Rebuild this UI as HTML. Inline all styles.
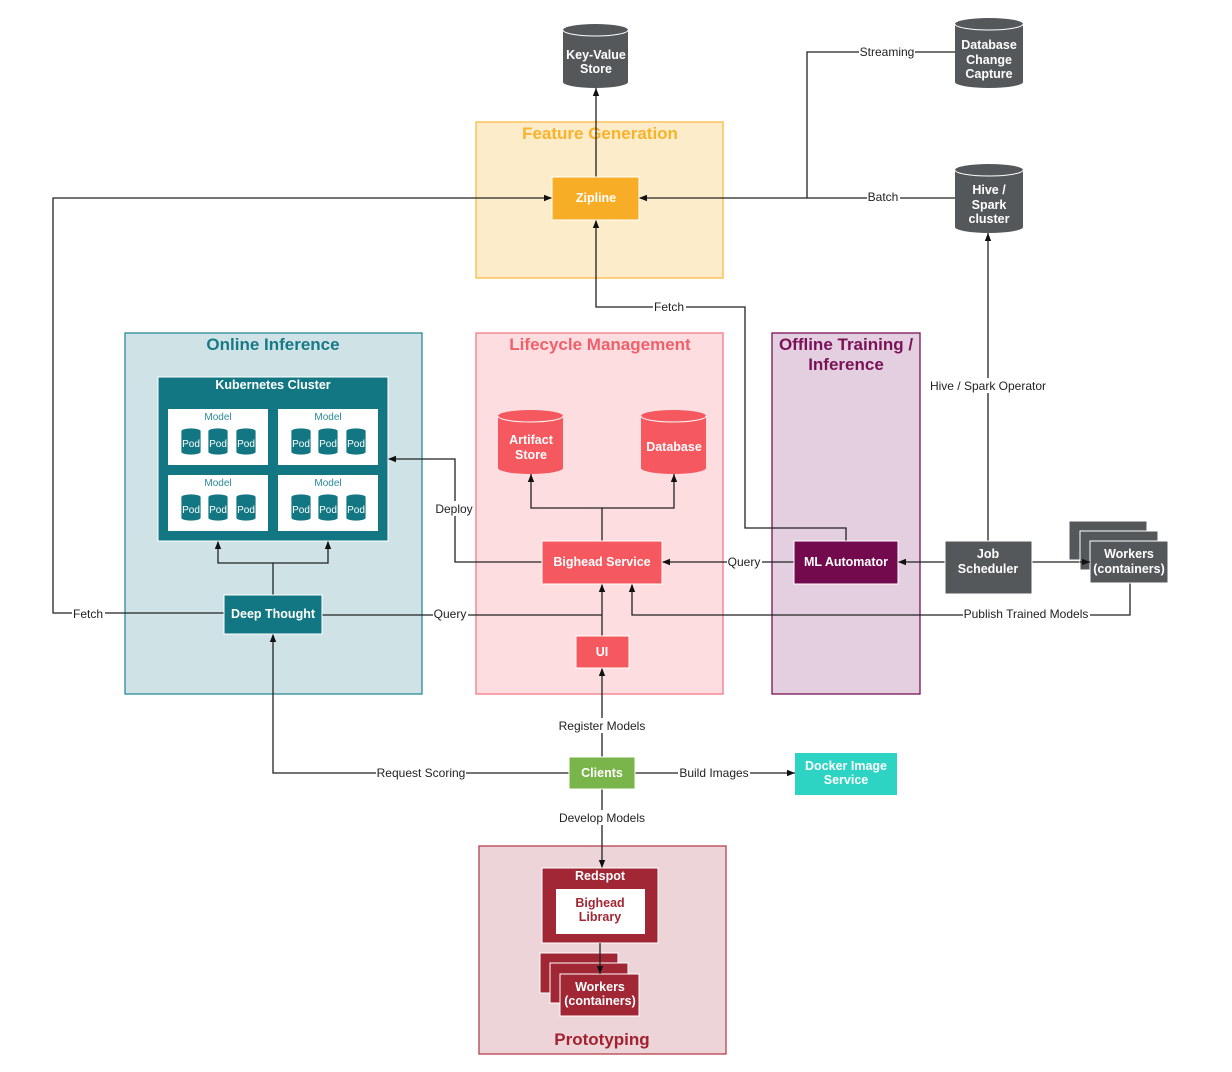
<!DOCTYPE html>
<html><head><meta charset="utf-8"><style>
html,body{margin:0;padding:0;background:#fff;}
svg{display:block;font-family:"Liberation Sans",Arial,sans-serif;}
.w{fill:#fff;font-weight:bold;font-size:12.5px;text-anchor:middle;}
.l{fill:#222;font-size:12px;text-anchor:middle;}
.ln{fill:none;stroke:#222;stroke-width:1.3;}
.t{font-weight:bold;font-size:17px;text-anchor:middle;}
.pt{fill:#fff;font-size:10px;text-anchor:middle;}
.mt{fill:#2a8a98;font-size:10px;text-anchor:middle;}
</style></head><body>
<svg width="1232" height="1072" viewBox="0 0 1232 1072" xmlns="http://www.w3.org/2000/svg">
<defs>
<marker id="a" viewBox="0 0 10 10" refX="10" refY="5" markerWidth="8" markerHeight="8" orient="auto-start-reverse" markerUnits="userSpaceOnUse"><path d="M0,1 L10,5 L0,9 z" fill="#111"/></marker>
</defs>

<!-- containers -->
<rect x="476" y="122" width="247" height="156" fill="#fdecc9" stroke="#f9c35a" stroke-width="1.5"/>
<text x="600" y="139" class="t" fill="#f7b32b">Feature Generation</text>
<rect x="125" y="333" width="297" height="361" fill="#cfe3e7" stroke="#2a8a98" stroke-width="1.3"/>
<text x="273" y="350" class="t" fill="#177a86">Online Inference</text>
<rect x="476" y="333" width="247" height="361" fill="#fddde0" stroke="#f28a92" stroke-width="1.5"/>
<text x="600" y="350" class="t" fill="#f0606a">Lifecycle Management</text>
<rect x="772" y="333" width="148" height="361" fill="#e4cfe0" stroke="#7a1258" stroke-width="1.3"/>
<text x="846" y="350" class="t" fill="#7a1258">Offline Training /</text>
<text x="846" y="370" class="t" fill="#7a1258">Inference</text>
<rect x="479" y="846" width="247" height="208" fill="#ecd4d8" stroke="#b8404f" stroke-width="1.3"/>
<text x="602" y="1045" class="t" fill="#a3222f">Prototyping</text>

<!-- connectors -->
<path class="ln" d="M596 177 V88" marker-end="url(#a)"/>
<path class="ln" d="M955 52 H807 V198"/>
<path class="ln" d="M955 198 H639" marker-end="url(#a)"/>
<path class="ln" d="M224 613 H53 V198 H552" marker-end="url(#a)"/>
<path class="ln" d="M846 541 V528 H745 V307 H596 V220" marker-end="url(#a)"/>
<path class="ln" d="M988 541 V233" marker-end="url(#a)"/>
<path class="ln" d="M1032 562 H1090" marker-end="url(#a)"/>
<path class="ln" d="M945 562 H898" marker-end="url(#a)"/>
<path class="ln" d="M794 562 H662" marker-end="url(#a)"/>
<path class="ln" d="M602 541 V508 H531 V474" marker-end="url(#a)"/>
<path class="ln" d="M602 508 H674 V474" marker-end="url(#a)"/>
<path class="ln" d="M542 562 H455 V459 H388" marker-end="url(#a)"/>
<path class="ln" d="M273 595 V563 H218 V541" marker-end="url(#a)"/>
<path class="ln" d="M273 563 H328 V541" marker-end="url(#a)"/>
<path class="ln" d="M322 615 H602"/>
<path class="ln" d="M602 636 V584" marker-end="url(#a)"/>
<path class="ln" d="M1130 583 V615 H632 V584" marker-end="url(#a)"/>
<path class="ln" d="M602 757 V668" marker-end="url(#a)"/>
<path class="ln" d="M569 773 H273 V634" marker-end="url(#a)"/>
<path class="ln" d="M635 773 H795" marker-end="url(#a)"/>
<path class="ln" d="M602 789 V868" marker-end="url(#a)"/>

<!-- labels -->
<g class="l">
<rect x="859" y="44" width="56" height="15" fill="#fff"/><text x="887" y="56">Streaming</text>
<rect x="867" y="190" width="33" height="15" fill="#fff"/><text x="883" y="201">Batch</text>
<rect x="72" y="606" width="33" height="15" fill="#fff"/><text x="88" y="618">Fetch</text>
<rect x="653" y="299" width="33" height="15" fill="#fff"/><text x="669" y="311">Fetch</text>
<rect x="928" y="378" width="121" height="15" fill="#fff"/><text x="988" y="390">Hive / Spark Operator</text>
<rect x="727" y="554" width="35" height="15" fill="#fff"/><text x="744" y="566">Query</text>
<rect x="433" y="501" width="42" height="15" fill="#fff"/><text x="454" y="513">Deploy</text>
<rect x="433" y="606" width="35" height="15" fill="#fff"/><text x="450" y="618">Query</text>
<rect x="963" y="606" width="127" height="15" fill="#fff"/><text x="1026" y="618">Publish Trained Models</text>
<rect x="556" y="718" width="92" height="15" fill="#fff"/><text x="602" y="730">Register Models</text>
<rect x="376" y="765" width="90" height="15" fill="#fff"/><text x="421" y="777">Request Scoring</text>
<rect x="678" y="765" width="72" height="15" fill="#fff"/><text x="714" y="777">Build Images</text>
<rect x="556" y="810" width="92" height="15" fill="#fff"/><text x="602" y="822">Develop Models</text>
</g>

<!-- cylinders gray -->
<g fill="#54585b">
<path d="M563 30 A32.5 6 0 0 1 628 30 V82 A32.5 6 0 0 1 563 82 Z"/>
<path d="M955 24 A34 6 0 0 1 1023 24 V82 A34 6 0 0 1 955 82 Z"/>
<path d="M955 170 A34 6 0 0 1 1023 170 V227 A34 6 0 0 1 955 227 Z"/>
</g>
<g fill="none" stroke="#fff" stroke-width="1">
<path d="M563 30 A32.5 6 0 0 0 628 30"/>
<path d="M955 24 A34 6 0 0 0 1023 24"/>
<path d="M955 170 A34 6 0 0 0 1023 170"/>
</g>
<text class="w" x="596" y="59">Key-Value</text><text class="w" x="596" y="73">Store</text>
<text class="w" x="989" y="49">Database</text><text class="w" x="989" y="64">Change</text><text class="w" x="989" y="78">Capture</text>
<text class="w" x="989" y="194">Hive /</text><text class="w" x="989" y="209">Spark</text><text class="w" x="989" y="223">cluster</text>

<!-- zipline -->
<rect x="552" y="177" width="87" height="43" fill="#f8ad27" stroke="#fff"/>
<text class="w" x="596" y="202">Zipline</text>

<!-- kubernetes -->
<rect x="158" y="377" width="230" height="164" fill="#137783" stroke="#fff"/>
<text class="w" x="273" y="389">Kubernetes Cluster</text>
<g fill="#fff">
<rect x="168" y="409" width="100" height="56"/><rect x="278" y="409" width="100" height="56"/>
<rect x="168" y="475" width="100" height="56"/><rect x="278" y="475" width="100" height="56"/>
</g>
<text class="mt" x="218" y="420">Model</text><text class="mt" x="328" y="420">Model</text>
<text class="mt" x="218" y="486">Model</text><text class="mt" x="328" y="486">Model</text>
<g fill="#137783" stroke="#fff" stroke-width="0.8">
<path id="p" d="M181 431 A10 3 0 0 1 201 431 V452 A10 3 0 0 1 181 452 Z"/>
<use href="#p" x="27"/><use href="#p" x="55"/><use href="#p" x="110"/><use href="#p" x="137"/><use href="#p" x="165"/>
<use href="#p" y="66"/><use href="#p" x="27" y="66"/><use href="#p" x="55" y="66"/><use href="#p" x="110" y="66"/><use href="#p" x="137" y="66"/><use href="#p" x="165" y="66"/>
</g>
<g class="pt">
<text x="191" y="447">Pod</text><text x="218" y="447">Pod</text><text x="246" y="447">Pod</text>
<text x="301" y="447">Pod</text><text x="328" y="447">Pod</text><text x="356" y="447">Pod</text>
<text x="191" y="513">Pod</text><text x="218" y="513">Pod</text><text x="246" y="513">Pod</text>
<text x="301" y="513">Pod</text><text x="328" y="513">Pod</text><text x="356" y="513">Pod</text>
</g>

<!-- deep thought -->
<rect x="224" y="595" width="98" height="39" fill="#137783" stroke="#fff"/>
<text class="w" x="273" y="618">Deep Thought</text>

<!-- lifecycle -->
<g fill="#f5585f">
<path d="M498 416 A32.5 6 0 0 1 563 416 V468 A32.5 6 0 0 1 498 468 Z"/>
<path d="M641 416 A32.5 6 0 0 1 706 416 V468 A32.5 6 0 0 1 641 468 Z"/>
</g>
<g fill="none" stroke="#fff"><path d="M498 416 A32.5 6 0 0 0 563 416"/><path d="M641 416 A32.5 6 0 0 0 706 416"/></g>
<text class="w" x="531" y="444">Artifact</text><text class="w" x="531" y="459">Store</text>
<text class="w" x="674" y="451">Database</text>
<rect x="542" y="541" width="120" height="43" fill="#f5585f" stroke="#fff"/>
<text class="w" x="602" y="566">Bighead Service</text>
<rect x="576" y="636" width="53" height="32" fill="#f5585f" stroke="#fff"/>
<text class="w" x="602" y="656">UI</text>

<!-- offline -->
<rect x="794" y="541" width="104" height="43" fill="#730a4e" stroke="#fff"/>
<text class="w" x="846" y="566">ML Automator</text>
<rect x="945" y="541" width="87" height="53" fill="#54585b" stroke="#fff"/>
<text class="w" x="988" y="558">Job</text><text class="w" x="988" y="573">Scheduler</text>
<g fill="#54585b" stroke="#fff">
<rect x="1069" y="521" width="78" height="39"/>
<rect x="1080" y="531" width="78" height="39"/>
<rect x="1090" y="541" width="78" height="42"/>
</g>
<path class="ln" d="M1080 562 H1090" marker-end="url(#a)"/>
<text class="w" x="1129" y="558">Workers</text><text class="w" x="1129" y="573">(containers)</text>

<!-- clients -->
<rect x="569" y="757" width="66" height="32" fill="#79b54a" stroke="#fff"/>
<text class="w" x="602" y="777">Clients</text>
<rect x="795" y="753" width="102" height="42" fill="#2dd4c3"/>
<text class="w" x="846" y="770">Docker Image</text><text class="w" x="846" y="784">Service</text>

<!-- prototyping -->
<rect x="542" y="868" width="116" height="75" fill="#a12734" stroke="#fff"/>
<text class="w" x="600" y="880">Redspot</text>
<rect x="556" y="889" width="89" height="45" fill="#fff"/>
<text class="w" x="600" y="907" style="fill:#a12734">Bighead</text><text class="w" x="600" y="921" style="fill:#a12734">Library</text>
<g fill="#a12734" stroke="#fff">
<rect x="540" y="953" width="78" height="40"/>
<rect x="550" y="963" width="78" height="40"/>
<rect x="560" y="974" width="79" height="42"/>
</g>
<path class="ln" d="M600 943 V974" marker-end="url(#a)"/>
<text class="w" x="600" y="991">Workers</text><text class="w" x="600" y="1005">(containers)</text>
</svg>
</body></html>
